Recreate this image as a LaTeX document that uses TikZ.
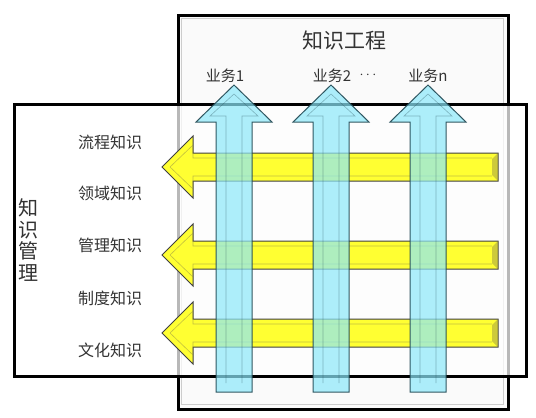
\documentclass[tikz,border=0pt]{standalone}
\usepackage{fontspec}
\setmainfont{Noto Sans CJK SC}
\definecolor{bluefill}{RGB}{140,232,250}
\definecolor{blueline}{RGB}{30,70,80}
\definecolor{yfill}{RGB}{255,255,50}
\begin{document}
\begin{tikzpicture}[x=1pt,y=-1pt,
  frame/.style={line width=3pt,draw=black},
  lab/.style={text=black!80,font=\fontsize{15}{16}\selectfont,inner sep=0pt},
  ylw/.style={fill=yfill,draw=black!75,line width=1pt,line join=miter},
  blu/.style={fill=bluefill,fill opacity=0.7,draw=blueline,line width=1pt,draw opacity=0.9}]
\useasboundingbox (0,0) rectangle (536,418);
\fill[white] (0,0) rectangle (536,418);
% top box (knowledge engineering)
\node[frame,fill=black!2,minimum width=330pt,minimum height=394pt,inner sep=0pt,anchor=north west] (eng) at (177,14) {};
\draw[black!20,line width=1pt] (181,18) rectangle (503,404);
% left box (knowledge management)
\node[frame,fill=white,fill opacity=0.72,minimum width=512pt,minimum height=272pt,inner sep=0pt,anchor=north west] (mgt) at (13,103) {};
% titles
\node[lab,font=\fontsize{21}{22}\selectfont] (t1) at (344,40) {知识工程};
\node[lab,font=\fontsize{20}{21.5}\selectfont,align=center] (t2) at (28,240) {知\\识\\管\\理};
% business labels
\node[lab] (b1) at (225,76) {业务1};
\node[lab] (b2) at (332,76) {业务2};
\node[lab] (bd) at (368,75) {$\cdots$};
\node[lab] (bn) at (428,76) {业务n};
% knowledge labels
\node[lab,font=\fontsize{16}{17}\selectfont] (k1) at (110,142) {流程知识};
\node[lab,font=\fontsize{16}{17}\selectfont] (k2) at (110,193) {领域知识};
\node[lab,font=\fontsize{16}{17}\selectfont] (k3) at (110,245) {管理知识};
\node[lab,font=\fontsize{16}{17}\selectfont] (k4) at (110,298) {制度知识};
\node[lab,font=\fontsize{16}{17}\selectfont] (k5) at (110,350) {文化知识};
% yellow arrows
\foreach \cy in {167,255,333}{
  \draw[ylw] (162,\cy) -- (193,\cy-31) -- (193,\cy-14) -- (498,\cy-14) -- (498,\cy+14) -- (193,\cy+14) -- (193,\cy+31) -- cycle;
  \fill[yellow!60!black,opacity=0.55] (498,\cy-14) -- (492,\cy-8) -- (492,\cy+8) -- (498,\cy+14) -- cycle;
  \draw[yellow!55!black,opacity=0.6,line width=0.6pt] (170,\cy) -- (193,\cy-22) -- (193,\cy-9) -- (492,\cy-9);
  \draw[yellow!55!black,opacity=0.6,line width=0.6pt] (170,\cy) -- (193,\cy+22) -- (193,\cy+9) -- (492,\cy+9);
}
% blue arrows
\foreach \cx in {234,331,428}{
  \draw[blu] (\cx,85) -- (\cx+38,122) -- (\cx+18,122) -- (\cx+18,392) -- (\cx-18,392) -- (\cx-18,122) -- (\cx-38,122) -- cycle;
  \draw[blueline,opacity=0.35,line width=0.6pt] (\cx-8,383) -- (\cx-8,116) -- (\cx-24,116) -- (\cx,94) -- (\cx+24,116) -- (\cx+8,116) -- (\cx+8,383);
}
\end{tikzpicture}
\end{document}
